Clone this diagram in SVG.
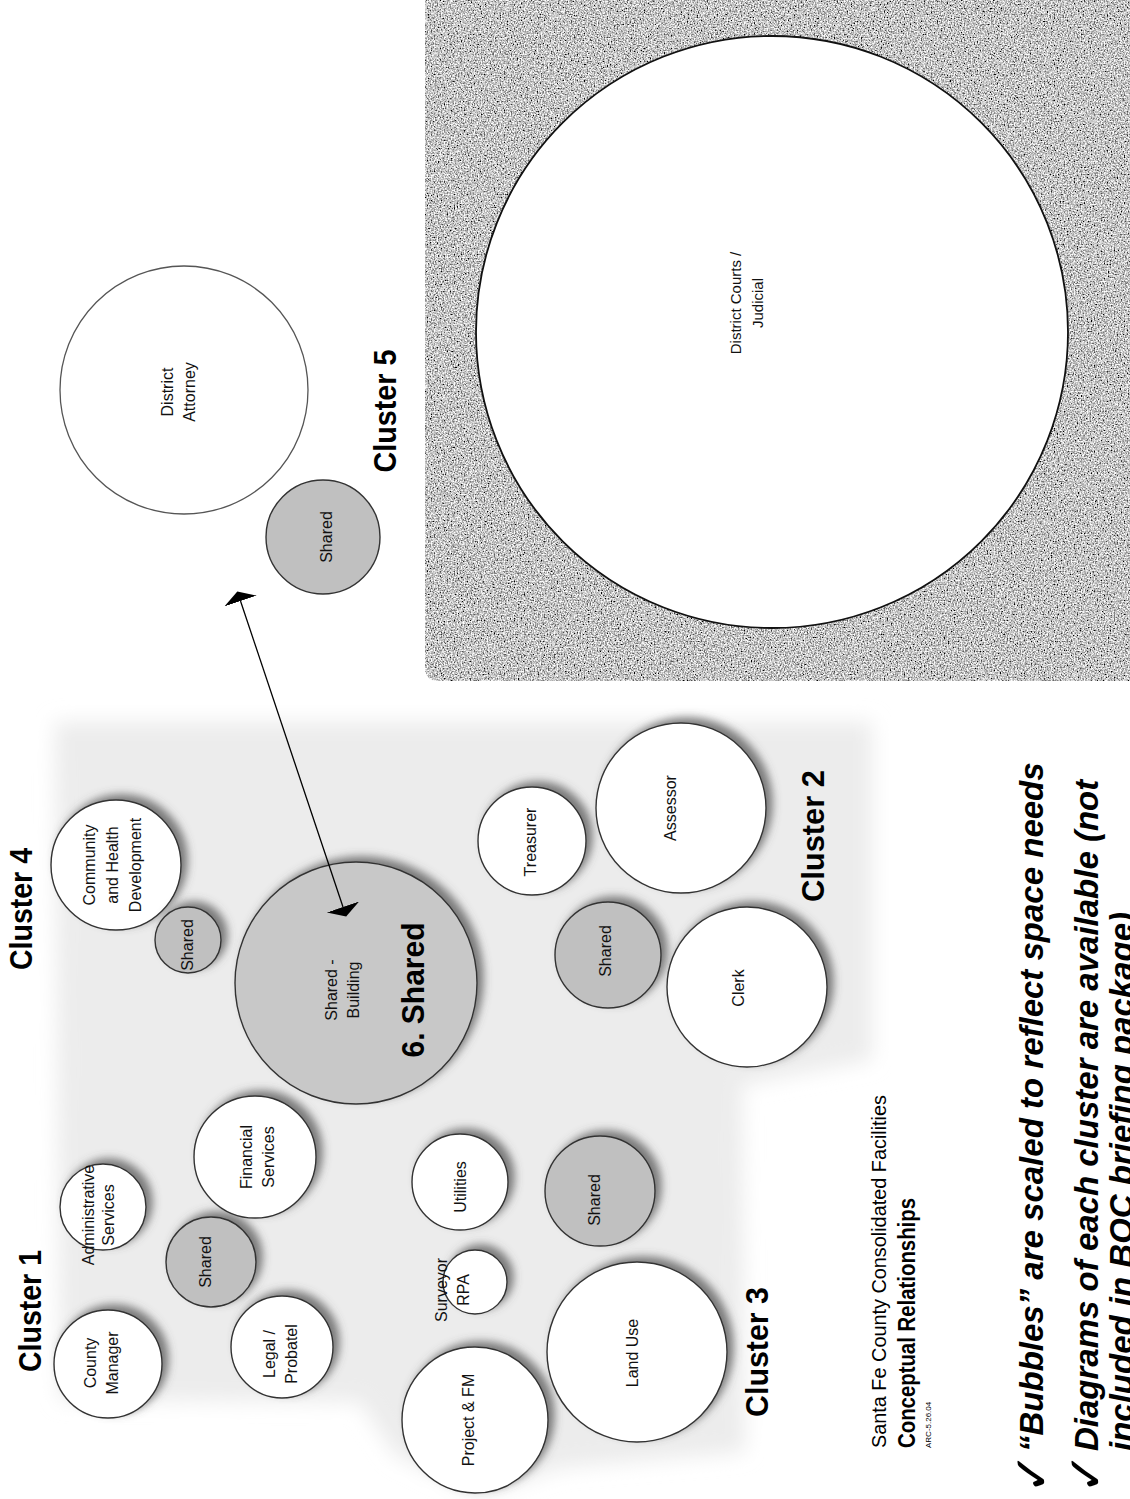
<svg xmlns="http://www.w3.org/2000/svg" width="1130" height="1499" viewBox="0 0 1130 1499">
<defs>
<style>
.lbl{font-family:"Liberation Sans",Arial,sans-serif;font-size:16px;text-anchor:middle;fill:#111}
.clu{font-family:"Liberation Sans",Arial,sans-serif;font-size:31px;font-weight:bold;text-anchor:middle;fill:#000}
.bub{fill:#fff;stroke:#333;stroke-width:1.4}
.shr{fill:#c0c0c0;stroke:#333;stroke-width:1.4}
.ttl{font-family:"Liberation Sans",Arial,sans-serif;fill:#000}
.bul{font-family:"Liberation Sans",Arial,sans-serif;font-size:33px;font-weight:bold;font-style:italic;fill:#000}
.chk{font-family:"DejaVu Sans",sans-serif;font-size:50px;font-weight:bold;fill:#000}
.conn{stroke:#000;stroke-width:1.3;fill:none}
</style>
<filter id="halo" x="-40%" y="-40%" width="180%" height="180%">
<feGaussianBlur in="SourceAlpha" stdDeviation="4"/>
<feOffset dx="6" dy="-5" result="b"/>
<feFlood flood-color="#555" flood-opacity="0.75"/>
<feComposite in2="b" operator="in" result="s"/>
<feMerge><feMergeNode in="s"/><feMergeNode in="SourceGraphic"/></feMerge>
</filter>
<filter id="soft" x="-10%" y="-10%" width="120%" height="120%">
<feGaussianBlur stdDeviation="10"/>
</filter>
<filter id="grain" x="0" y="0" width="1" height="1">
<feTurbulence type="fractalNoise" baseFrequency="0.7" numOctaves="2" seed="3" result="t"/>
<feColorMatrix in="t" type="matrix" values="2.0 0 0 0 -0.44  2.0 0 0 0 -0.44  2.0 0 0 0 -0.44  0 0 0 0 1" result="g"/>
<feComposite in="g" in2="SourceGraphic" operator="in"/>
</filter>
<marker id="ah" viewBox="0 -18 12 36" refX="0" refY="0" markerWidth="12" markerHeight="36" markerUnits="userSpaceOnUse" orient="auto-start-reverse">
<path d="M0,-17 L10,0 L0,17 Z" fill="#000"/>
</marker>
</defs>
<rect x="0" y="0" width="1130" height="1499" fill="#fff"/>
<g id="backgrounds">
<path d="M55,722 L872,722 L872,1060 L742,1085 L745,1452 L560,1468 L480,1496 L395,1455 L360,1402 L60,1400 Z" fill="#ececec" filter="url(#soft)"/>
<path d="M425,0 H1130 V681 H439 Q425,681 425,667 Z" fill="#969696" filter="url(#grain)"/>
</g>
<g id="n-district-courts">
<circle cx="772" cy="332" r="296" fill="#fff" stroke="#111" stroke-width="1.8"/>
<text class="lbl" style="font-size:15px" transform="translate(746 303) rotate(-90)"><tspan x="0" y="-5.5">District Courts /</tspan><tspan x="0" y="16.5">Judicial</tspan></text>
</g>
<g id="n-district-attorney">
<circle cx="184" cy="390" r="124" fill="#fff" stroke="#555" stroke-width="1.3"/>
<text class="lbl" transform="translate(178 392) rotate(-90)"><tspan x="0" y="-5.3">District</tspan><tspan x="0" y="16.7">Attorney</tspan></text>
</g>
<g id="n-shared-5">
<circle class="shr" cx="323" cy="537" r="57"/>
<text class="lbl" transform="translate(326 537) rotate(-90)" y="5.7">Shared</text>
</g>
<g id="n-cluster5-label"><text class="clu" transform="translate(385 411) rotate(-90)" y="11" textLength="123" lengthAdjust="spacingAndGlyphs">Cluster 5</text></g>
<g id="n-community">
<circle class="bub" filter="url(#halo)" cx="116" cy="865" r="65"/>
<text class="lbl" transform="translate(112 865) rotate(-90)"><tspan x="0" y="-17.3">Community</tspan><tspan x="0" y="5.7">and Health</tspan><tspan x="0" y="28.7">Development</tspan></text>
</g>
<g id="n-shared-4">
<circle class="shr" filter="url(#halo)" cx="188" cy="940" r="33"/>
<text class="lbl" transform="translate(187 945) rotate(-90)" y="5.7">Shared</text>
</g>
<g id="n-shared-building">
<circle class="shr" filter="url(#halo)" cx="356" cy="983" r="121" style="fill:#c8c8c8"/>
<text class="lbl" transform="translate(342 990) rotate(-90)"><tspan x="0" y="-5.3">Shared -</tspan><tspan x="0" y="16.7">Building</tspan></text>
<text class="clu" style="font-size:32px" transform="translate(413 990) rotate(-90)" y="11.4" textLength="135" lengthAdjust="spacingAndGlyphs">6. Shared</text>
</g>
<g id="n-cluster4-label"><text class="clu" transform="translate(21 909) rotate(-90)" y="11" textLength="122" lengthAdjust="spacingAndGlyphs">Cluster 4</text></g>
<g id="n-cluster1-label"><text class="clu" transform="translate(30 1311) rotate(-90)" y="11" textLength="122" lengthAdjust="spacingAndGlyphs">Cluster 1</text></g>
<g id="n-county-manager">
<circle class="bub" filter="url(#halo)" cx="108" cy="1364" r="54"/>
<text class="lbl" transform="translate(101 1363) rotate(-90)"><tspan x="0" y="-5.3">County</tspan><tspan x="0" y="16.7">Manager</tspan></text>
</g>
<g id="n-admin-services">
<circle class="bub" filter="url(#halo)" cx="103" cy="1207" r="43"/>
<text class="lbl" transform="translate(98 1215) rotate(-90)"><tspan x="0" y="-4.3">Administrative</tspan><tspan x="0" y="15.7">Services</tspan></text>
</g>
<g id="n-shared-1">
<circle class="shr" filter="url(#halo)" cx="211" cy="1262" r="45"/>
<text class="lbl" transform="translate(205 1262) rotate(-90)" y="5.7">Shared</text>
</g>
<g id="n-financial">
<circle class="bub" filter="url(#halo)" cx="255" cy="1157" r="61"/>
<text class="lbl" transform="translate(257 1157) rotate(-90)"><tspan x="0" y="-5.3">Financial</tspan><tspan x="0" y="16.7">Services</tspan></text>
</g>
<g id="n-legal">
<circle class="bub" filter="url(#halo)" cx="282" cy="1347" r="51"/>
<text class="lbl" transform="translate(280 1354) rotate(-90)"><tspan x="0" y="-5.3">Legal /</tspan><tspan x="0" y="16.7">Probatel</tspan></text>
</g>
<g id="n-utilities">
<circle class="bub" filter="url(#halo)" cx="460" cy="1182" r="48"/>
<text class="lbl" transform="translate(460 1187) rotate(-90)" y="5.7">Utilities</text>
</g>
<g id="n-surveyor">
<circle class="bub" filter="url(#halo)" cx="475" cy="1282" r="32"/>
<text class="lbl" transform="translate(452 1290) rotate(-90)"><tspan x="0" y="-5.3">Surveyor</tspan><tspan x="0" y="16.7">RPA</tspan></text>
</g>
<g id="n-project-fm">
<circle class="bub" filter="url(#halo)" cx="475" cy="1420" r="73"/>
<text class="lbl" transform="translate(468 1420) rotate(-90)" y="5.7">Project &amp; FM</text>
</g>
<g id="n-land-use">
<circle class="bub" filter="url(#halo)" cx="637" cy="1352" r="90"/>
<text class="lbl" transform="translate(632 1353) rotate(-90)" y="5.7">Land Use</text>
</g>
<g id="n-shared-3">
<circle class="shr" filter="url(#halo)" cx="600" cy="1191" r="55"/>
<text class="lbl" transform="translate(594 1200) rotate(-90)" y="5.7">Shared</text>
</g>
<g id="n-cluster3-label"><text class="clu" transform="translate(757 1352) rotate(-90)" y="11" textLength="130" lengthAdjust="spacingAndGlyphs">Cluster 3</text></g>
<g id="n-treasurer">
<circle class="bub" filter="url(#halo)" cx="532" cy="841" r="54"/>
<text class="lbl" transform="translate(530 842) rotate(-90)" y="5.7">Treasurer</text>
</g>
<g id="n-assessor">
<circle class="bub" filter="url(#halo)" cx="681" cy="808" r="85"/>
<text class="lbl" transform="translate(670 808) rotate(-90)" y="5.7">Assessor</text>
</g>
<g id="n-shared-2">
<circle class="shr" filter="url(#halo)" cx="608" cy="955" r="53"/>
<text class="lbl" transform="translate(605 951) rotate(-90)" y="5.7">Shared</text>
</g>
<g id="n-clerk">
<circle class="bub" filter="url(#halo)" cx="747" cy="987" r="80"/>
<text class="lbl" transform="translate(738 988) rotate(-90)" y="5.7">Clerk</text>
</g>
<g id="n-cluster2-label"><text class="clu" transform="translate(813 836) rotate(-90)" y="11" textLength="132" lengthAdjust="spacingAndGlyphs">Cluster 2</text></g>
<g id="connectors">
<line class="conn" x1="240.5" y1="601" x2="343" y2="907" marker-start="url(#ah)" marker-end="url(#ah)"/>
</g>
<g id="title">
<text class="ttl" style="font-size:19.5px" transform="translate(886 1448) rotate(-90)" textLength="353" lengthAdjust="spacingAndGlyphs">Santa Fe County Consolidated Facilities</text>
<text class="ttl" style="font-size:23px;font-weight:bold" transform="translate(915 1448) rotate(-90)" textLength="250" lengthAdjust="spacingAndGlyphs">Conceptual Relationships</text>
<text class="ttl" style="font-size:8px" transform="translate(931 1448) rotate(-90)">ARC-5.26.04</text>
</g>
<g id="notes">
<text class="chk" transform="translate(1049 1494) rotate(-90)">✓</text>
<text class="bul" transform="translate(1043 1452) rotate(-90)">“Bubbles” are scaled to reflect space needs</text>
<text class="chk" transform="translate(1103 1494) rotate(-90)">✓</text>
<text class="bul" transform="translate(1098 1451) rotate(-90)">Diagrams of each cluster are available (not</text>
<text class="bul" transform="translate(1133 1451) rotate(-90)">included in BOC briefing package)</text>
</g>
</svg>
